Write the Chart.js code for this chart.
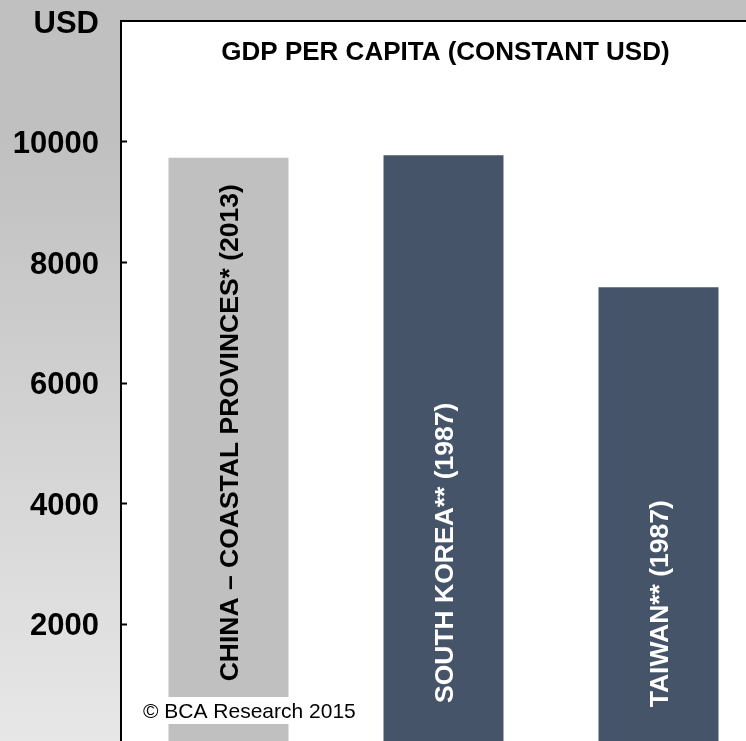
<!DOCTYPE html>
<html>
<head>
<meta charset="utf-8">
<script src="https://cdn.jsdelivr.net/npm/chart.js@4/dist/chart.umd.min.js"></script>
<style>
  html, body { margin: 0; padding: 0; }
  body {
    width: 746px; height: 741px; overflow: hidden;
    background: linear-gradient(to bottom, #c0c0c0 0px, #c0c0c0 140px, #e7e7e7 741px);
  }
  #wrap { position: absolute; left: 0; top: 0; width: 780px; height: 760px; }
</style>
</head>
<body>
<div id="wrap"><canvas id="chart" width="780" height="760"></canvas></div>
<script>
// GDP per capita, constant USD
const categories = ['CHINA – COASTAL PROVINCES* (2013)', 'SOUTH KOREA** (1987)', 'TAIWAN** (1987)'];
const gdpPerCapita = [9730, 9770, 7580];
const barColors = ['#c0c0c0', '#465469', '#465469'];
const labelColors = ['#000000', '#ffffff', '#ffffff'];
// value at which each rotated bar label starts (its bottom end)
const labelBase = [1040, 680, 610];
const yTicks = [0, 2000, 4000, 6000, 8000, 10000, 12000];

const FONT = '"Liberation Sans", Arial, Helvetica, sans-serif';

const plotFrame = {
  id: 'plotFrame',
  beforeDraw(chart) {
    const { ctx, chartArea: a } = chart;
    ctx.save();
    ctx.fillStyle = '#ffffff';
    ctx.fillRect(a.left, a.top, chart.width - a.left, chart.height - a.top);
    ctx.restore();
  },
  afterDraw(chart) {
    const { ctx, chartArea: a } = chart;
    const y = chart.scales.y;
    ctx.save();
    ctx.strokeStyle = '#000000';
    ctx.lineWidth = 2;
    // top frame line
    ctx.beginPath();
    ctx.moveTo(a.left - 1, a.top);
    ctx.lineTo(chart.width, a.top);
    ctx.stroke();
    // inward tick marks
    yTicks.slice(1, -1).forEach(v => {
      const py = Math.round(y.getPixelForValue(v)) + 0.5;
      ctx.beginPath();
      ctx.moveTo(a.left, py);
      ctx.lineTo(a.left + 6, py);
      ctx.stroke();
    });
    ctx.restore();
  }
};

const barText = {
  id: 'barText',
  afterDatasetsDraw(chart) {
    const { ctx, chartArea: a } = chart;
    const y = chart.scales.y;
    const meta = chart.getDatasetMeta(0);
    ctx.save();
    ctx.font = 'bold 26.5px ' + FONT;
    ctx.textAlign = 'left';
    ctx.textBaseline = 'middle';
    meta.data.forEach((bar, i) => {
      ctx.save();
      ctx.translate(bar.x + 2, y.getPixelForValue(labelBase[i]));
      ctx.rotate(-Math.PI / 2);
      ctx.fillStyle = labelColors[i];
      ctx.fillText(categories[i], 0, 0);
      ctx.restore();
    });

    // chart heading
    ctx.fillStyle = '#000000';
    ctx.font = 'bold 26px ' + FONT;
    ctx.textAlign = 'center';
    ctx.fillText('GDP PER CAPITA (CONSTANT USD)', (a.left + a.right) / 2 + 2, a.top + 32);

    // copyright note
    const note = '© BCA Research 2015';
    ctx.font = '21px ' + FONT;
    const w = ctx.measureText(note).width;
    const nx = a.left + 22, ny = a.bottom - 33;
    ctx.fillStyle = '#ffffff';
    ctx.fillRect(nx - 4, ny - 14, w + 8, 27);
    ctx.fillStyle = '#000000';
    ctx.textAlign = 'left';
    ctx.fillText(note, nx, ny + 1);
    ctx.restore();
  }
};

new Chart(document.getElementById('chart'), {
  type: 'bar',
  data: {
    labels: categories,
    datasets: [{
      data: gdpPerCapita,
      backgroundColor: barColors,
      borderWidth: 0,
      categoryPercentage: 1,
      barPercentage: 0.558
    }]
  },
  options: {
    responsive: false,
    animation: false,
    events: [],
    layout: { padding: { top: 21, right: 14, bottom: 16, left: 0 } },
    plugins: { legend: { display: false }, tooltip: { enabled: false }, title: { display: false } },
    scales: {
      x: { display: false },
      y: {
        min: 0,
        max: 12000,
        afterBuildTicks(scale) { scale.ticks = yTicks.map(v => ({ value: v })); },
        afterFit(scale) {
          scale.width = 121;
          scale.paddingTop = 0;
          scale.paddingBottom = 0;
        },
        grid: { display: false, drawTicks: false },
        border: { display: true, color: '#000000', width: 2 },
        ticks: {
          padding: 22,
          labelOffset: 3,
          color: '#000000',
          font: { family: FONT, size: 31, weight: 'bold' },
          callback: v => v === 0 ? '' : (v === 12000 ? 'USD' : String(v))
        }
      }
    }
  },
  plugins: [plotFrame, barText]
});
</script>
</body>
</html>
